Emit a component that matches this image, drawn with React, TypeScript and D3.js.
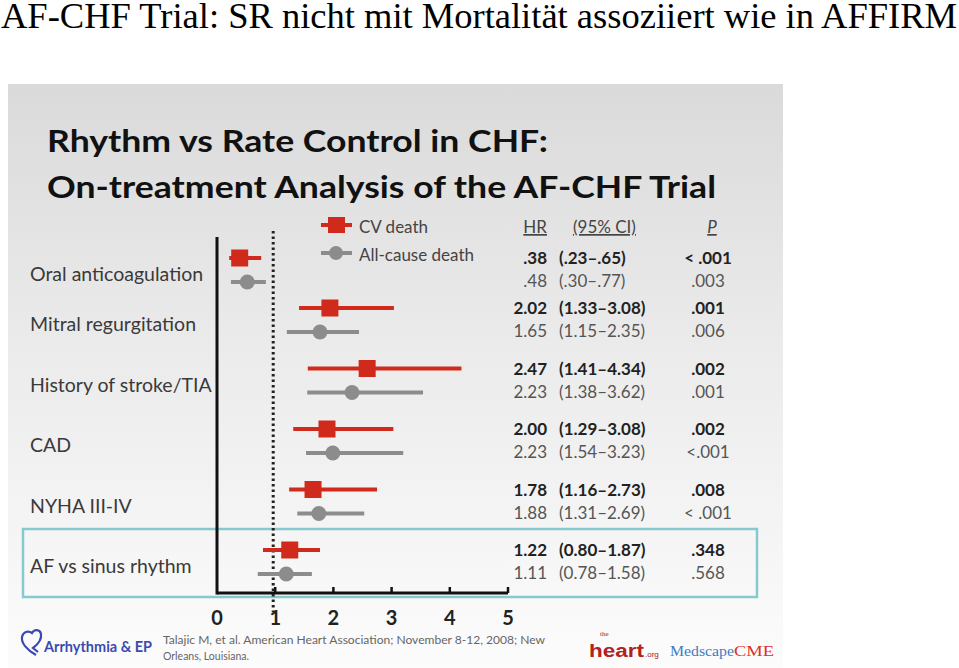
import React from "react";
import * as d3 from "d3";

const categories = [
  "Oral anticoagulation",
  "Mitral regurgitation",
  "History of stroke/TIA",
  "CAD",
  "NYHA III-IV",
  "AF vs sinus rhythm",
];
// plotted positions
const cvHR = [0.39, 1.94, 2.58, 1.89, 1.65, 1.25];
const cvLo = [0.21, 1.41, 1.56, 1.31, 1.24, 0.79];
const cvHi = [0.76, 3.04, 4.2, 3.03, 2.75, 1.77];
const allHR = [0.52, 1.77, 2.32, 1.99, 1.75, 1.19];
const allLo = [0.24, 1.2, 1.55, 1.53, 1.38, 0.7];
const allHi = [0.84, 2.44, 3.54, 3.2, 2.53, 1.63];
// table text
const cvHRText = [".38", "2.02", "2.47", "2.00", "1.78", "1.22"];
const cvCIText = ["(.23–.65)", "(1.33–3.08)", "(1.41–4.34)", "(1.29–3.08)", "(1.16–2.73)", "(0.80–1.87)"];
const cvPText = ["< .001", ".001", ".002", ".002", ".008", ".348"];
const allHRText = [".48", "1.65", "2.23", "2.23", "1.88", "1.11"];
const allCIText = ["(.30–.77)", "(1.15–2.35)", "(1.38–3.62)", "(1.54–3.23)", "(1.31–2.69)", "(0.78–1.58)"];
const allPText = [".003", ".006", ".001", "<.001", "< .001", ".568"];
const xTicks = [0, 1, 2, 3, 4, 5];

const W = 959;
const H = 668;
const SANS = "Lato, 'Open Sans', sans-serif";
const RED = "#d02a1c";
const GRAY = "#8c8c8c";

export default function App() {
  const x = d3.scaleLinear().domain([0, 5]).range([217, 508]);
  const y = d3.scaleLinear().domain([0, 1, 5]).range([258, 308, 550]);
  const axisY = 593;
  const allOff = 24;

  return (
    <svg
      width={W}
      height={H}
      style={{ position: "absolute", left: 0, top: 0, background: "#fff" }}
    >
      <defs>
        <linearGradient id="bg" x1="0" y1="0" x2="0" y2="1">
          <stop offset="0" stopColor="#dadada" />
          <stop offset="0.45" stopColor="#ebebeb" />
          <stop offset="1" stopColor="#fcfcfc" />
        </linearGradient>
      </defs>
      <text
        x={1}
        y={28}
        fontFamily="'Liberation Serif', 'Times New Roman', serif"
        fontSize={35}
        fill="#000"
        textLength={956}
        lengthAdjust="spacingAndGlyphs"
      >
        AF-CHF Trial: SR nicht mit Mortalität assoziiert wie in AFFIRM
      </text>
      <rect x={8} y={84} width={775} height={H - 84} fill="url(#bg)" />

      {/* slide title */}
      <text x={47} y={152} fontFamily={SANS} fontWeight={700} fontSize={31} fill="#111" textLength={501} lengthAdjust="spacingAndGlyphs">
        Rhythm vs Rate Control in CHF:
      </text>
      <text x={47} y={198} fontFamily={SANS} fontWeight={700} fontSize={31} fill="#111" textLength={669} lengthAdjust="spacingAndGlyphs">
        On-treatment Analysis of the AF-CHF Trial
      </text>

      {/* legend */}
      <line x1={321} x2={352} y1={225} y2={225} stroke={RED} strokeWidth={4} />
      <rect x={328} y={217} width={17} height={16} fill={RED} />
      <text x={359} y={233} fontFamily={SANS} fontSize={17} fill="#444">CV death</text>
      <line x1={321} x2={352} y1={253} y2={253} stroke={GRAY} strokeWidth={4} />
      <circle cx={336} cy={253} r={7} fill={GRAY} />
      <text x={359} y={261} fontFamily={SANS} fontSize={17} fill="#444">All-cause death</text>

      {/* column headers */}
      <text x={547} y={233} textAnchor="end" fontFamily={SANS} fontSize={17} fill="#444" textDecoration="underline">HR</text>
      <text x={573} y={233} fontFamily={SANS} fontSize={17} fill="#444" textDecoration="underline">(95% CI)</text>
      <text x={712} y={233} textAnchor="middle" fontFamily={SANS} fontSize={17} fontStyle="italic" fill="#444" textDecoration="underline">P</text>

      {/* AF box */}
      <rect x={23} y={529} width={734} height={68} fill="none" stroke="#86c9d0" strokeWidth={2.5} />

      {/* axes */}
      <line x1={x(0)} x2={x(0)} y1={237} y2={axisY + 1.5} stroke="#111" strokeWidth={3} />
      <line x1={x(0)} x2={x(5)} y1={axisY} y2={axisY} stroke="#111" strokeWidth={3} />
      {xTicks.map((t) => (
        <g key={t}>
          {t > 0 && <line x1={x(t)} x2={x(t)} y1={axisY} y2={axisY - 6} stroke="#111" strokeWidth={2.5} />}
          <text x={x(t)} y={625} textAnchor="middle" fontFamily={SANS} fontWeight={700} fontSize={20} fill="#222">
            {t}
          </text>
        </g>
      ))}
      <line x1={x(1) - 2} x2={x(1) - 2} y1={231} y2={612} stroke="#222" strokeWidth={3} strokeDasharray="2.5 3" />

      {/* rows */}
      {categories.map((c, i) => {
        const yc = y(i);
        const ya = yc + allOff;
        return (
          <g key={c}>
            <text x={30} y={yc + 23} fontFamily={SANS} fontSize={19.5} fill="#3a3a3a">{c}</text>
            <line x1={x(cvLo[i])} x2={x(cvHi[i])} y1={yc} y2={yc} stroke={RED} strokeWidth={4} />
            <rect x={x(cvHR[i]) - 8.5} y={yc - 8.5} width={17} height={17} fill={RED} />
            <line x1={x(allLo[i])} x2={x(allHi[i])} y1={ya} y2={ya} stroke={GRAY} strokeWidth={4} />
            <circle cx={x(allHR[i])} cy={ya} r={7.5} fill={GRAY} />

            <text x={547} y={yc + 6} textAnchor="end" fontFamily={SANS} fontWeight={700} fontSize={17} fill="#222">{cvHRText[i]}</text>
            <text x={559} y={yc + 6} fontFamily={SANS} fontWeight={700} fontSize={17} fill="#222">{cvCIText[i]}</text>
            <text x={708} y={yc + 6} textAnchor="middle" fontFamily={SANS} fontWeight={700} fontSize={17} fill="#222">{cvPText[i]}</text>
            <text x={547} y={yc + 29} textAnchor="end" fontFamily={SANS} fontSize={17} fill="#555">{allHRText[i]}</text>
            <text x={559} y={yc + 29} fontFamily={SANS} fontSize={17} fill="#555">{allCIText[i]}</text>
            <text x={708} y={yc + 29} textAnchor="middle" fontFamily={SANS} fontSize={17} fill="#555">{allPText[i]}</text>
          </g>
        );
      })}

      {/* footer */}
      <path
        d="M36,655 C27,650 21,643 22,637 C23,632 28,630 32,633 C34,629 40,629 41,634 C42,640 37,645 33,648 L38,652"
        fill="none"
        stroke="#3a4bb0"
        strokeWidth={2.2}
      />
      <text x={44} y={652} fontFamily={SANS} fontWeight={700} fontSize={16} fill="#3a4bb0" textLength={108} lengthAdjust="spacingAndGlyphs">
        Arrhythmia &amp; EP
      </text>
      <text x={163} y={644} fontFamily={SANS} fontSize={10.5} fill="#666" textLength={382} lengthAdjust="spacingAndGlyphs">
        Talajic M, et al. American Heart Association; November 8-12, 2008; New
      </text>
      <text x={163} y={660} fontFamily={SANS} fontSize={10.5} fill="#666">Orleans, Louisiana.</text>

      <text x={600} y={636} fontFamily="'Liberation Serif', serif" fontSize={7} fill="#a0201c">the</text>
      <text x={589} y={657} fontFamily="'Liberation Sans', sans-serif" fontWeight={700} fontSize={18} fill="#b3221c" textLength={55} lengthAdjust="spacingAndGlyphs">heart</text>
      <text x={645} y={657} fontFamily="'Liberation Sans', sans-serif" fontSize={8} fill="#a0201c">.org</text>
      <text x={670} y={656} fontFamily="'Liberation Serif', serif" fontSize={15} fill="#3d7cc4" textLength={64} lengthAdjust="spacingAndGlyphs">Medscape</text>
      <text x={734} y={656} fontFamily="'Liberation Serif', serif" fontSize={15} fill="#e0302a" textLength={40} lengthAdjust="spacingAndGlyphs">CME</text>
    </svg>
  );
}
